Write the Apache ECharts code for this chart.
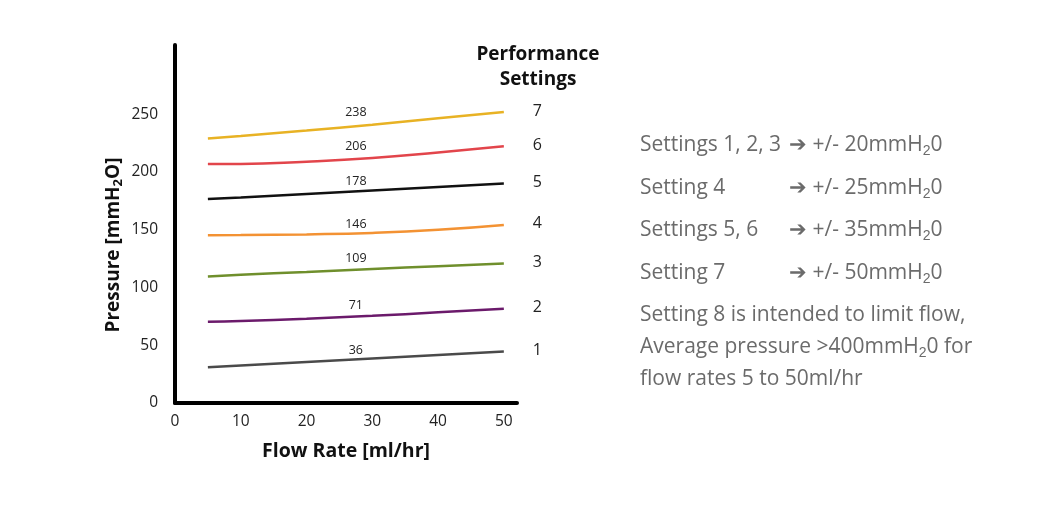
<!DOCTYPE html>
<html>
<head>
<meta charset="utf-8">
<script src="https://cdn.jsdelivr.net/npm/echarts@6/dist/echarts.min.js"></script>
<style>
  html, body { margin: 0; padding: 0; background: #fff; }
  #chart { width: 1047px; height: 509px; }
</style>
</head>
<body>
<div id="chart"></div>
<script>
const flowRates = [5, 10, 20, 30, 40, 50];

// one entry per performance setting, 1..7
const settingNames = ['1', '2', '3', '4', '5', '6', '7'];
const settingColors = ['#4a4a4a', '#6b1a6b', '#6f8f2c', '#f39233', '#111111', '#e2454b', '#e8b224'];
const pressure = [
  [31, 32.5, 35.5, 38.5, 41.5, 44.5],
  [70.3, 71, 73, 75.5, 78.5, 81.6],
  [109.6, 111, 113.5, 116, 118.5, 120.8],
  [145.3, 145.4, 146, 147.3, 150, 154.2],
  [176.7, 178, 181, 184, 187, 190],
  [207, 207, 209, 212.2, 217, 222.3],
  [229, 231.3, 236, 241, 246.5, 252]
];

// average pressure labels, placed over each curve near 27.5 ml/hr
const avgLabelX = 27.5;
const avgLabels = ['36', '71', '109', '146', '178', '206', '238'];
const avgLabelAt = [33.7, 72.4, 113.5, 143, 180, 210.6, 240];

const xTicksMax = 50;
const yTicksMax = 250;

const toleranceLeft = ['Settings 1, 2, 3', 'Setting 4', 'Settings 5, 6', 'Setting 7'];
const toleranceRight = ['20', '25', '35', '50'];
const noteLines = [
  'Setting 8 is intended to limit flow,',
  'Average pressure >400mmH{s|2}0 for',
  'flow rates 5 to 50ml/hr'
];

const FONT = '"Open Sans", "Noto Sans", sans-serif';
const GREY = '#6b6b6b';

function buildSeries() {
  return settingNames.map((name, i) => ({
    name,
    type: 'line',
    smooth: true,
    symbol: 'none',
    data: flowRates.map((x, j) => [x, pressure[i][j]]),
    lineStyle: { color: settingColors[i], width: 2.5 },
    endLabel: {
      show: true,
      formatter: name,
      offset: [21, -1],
      color: '#222',
      fontSize: 16,
      fontFamily: FONT
    },
    markPoint: {
      symbol: 'circle',
      symbolSize: 0,
      silent: true,
      data: [{ coord: [avgLabelX, avgLabelAt[i]] }],
      label: {
        show: true,
        position: 'top',
        distance: 7,
        formatter: avgLabels[i],
        color: '#222',
        fontSize: 12.5,
        fontFamily: FONT
      }
    }
  }));
}

function buildGraphic() {
  const items = [];
  const subRich = { s: { fontSize: 14, verticalAlign: 'bottom', padding: [12, 0, 0, 0] } };
  toleranceLeft.forEach((t, i) => {
    const y = 148 + i * 42.5;
    items.push({
      type: 'text', left: 640, top: y - 13,
      style: { text: t, fill: GREY, font: '21px ' + FONT }
    });
    items.push({
      type: 'text', left: 789, top: y - 13,
      style: {
        text: '\u2794 +/- ' + toleranceRight[i] + 'mmH{s|2}0',
        fill: GREY, font: '21px ' + FONT, rich: subRich
      }
    });
  });
  noteLines.forEach((t, i) => {
    items.push({
      type: 'text', left: 640, top: 305 + i * 32,
      style: { text: t, fill: GREY, font: '21px ' + FONT, rich: subRich }
    });
  });
  return items;
}

const chart = echarts.init(document.getElementById('chart'));
chart.setOption({
  animation: false,
  backgroundColor: '#fff',
  title: {
    text: 'Performance\nSettings',
    left: 533,
    textAlign: 'center',
    top: 37,
    textStyle: { fontFamily: FONT, fontWeight: 'bold', fontSize: 19, lineHeight: 25, color: '#111' }
  },
  grid: { left: 175, right: 530, top: 45, bottom: 106 },
  xAxis: {
    type: 'value',
    min: 0,
    max: 52,
    interval: 10,
    name: 'Flow Rate [ml/hr]',
    nameLocation: 'middle',
    nameGap: 38,
    nameTextStyle: { fontFamily: FONT, fontWeight: 'bold', fontSize: 19.5, color: '#111' },
    axisLine: { lineStyle: { color: '#000', width: 4 } },
    axisTick: { show: false },
    splitLine: { show: false },
    axisLabel: {
      margin: 11, color: '#222', fontSize: 15.5, fontFamily: FONT,
      formatter: (v) => (v <= xTicksMax ? String(v) : '')
    }
  },
  yAxis: {
    type: 'value',
    min: 0,
    max: 310,
    interval: 50,
    name: 'Pressure [mmH{s|2}O]',
    nameLocation: 'middle',
    nameRotate: 90,
    nameGap: 50,
    nameTextStyle: {
      fontFamily: FONT, fontWeight: 'bold', fontSize: 19, color: '#111',
      padding: [0, 42, 0, 0],
      rich: { s: { fontFamily: FONT, fontWeight: 'bold', fontSize: 13, color: '#111', verticalAlign: 'bottom', padding: [10, 0, 0, 0] } }
    },
    axisLine: { show: true, lineStyle: { color: '#000', width: 4 } },
    axisTick: { show: false },
    splitLine: { show: false },
    axisLabel: {
      margin: 17, color: '#222', fontSize: 15.5, fontFamily: FONT,
      formatter: (v) => (v <= yTicksMax ? String(v) : '')
    }
  },
  series: buildSeries(),
  graphic: buildGraphic()
});
window.addEventListener('resize', () => chart.resize());
</script>
</body>
</html>
